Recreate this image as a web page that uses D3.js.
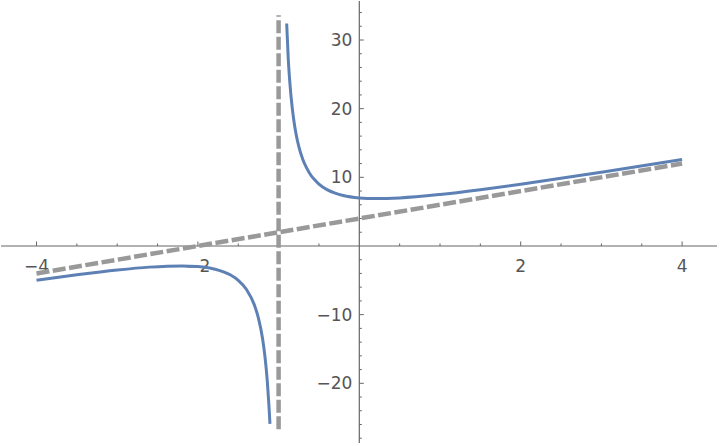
<!DOCTYPE html>
<html>
<head>
<meta charset="utf-8">
<script src="https://cdn.jsdelivr.net/npm/d3@7"></script>
<style>
  body { margin: 0; background: #fff; }
  svg text { font-family: "DejaVu Sans", sans-serif; font-size: 17px; fill: #555; }
</style>
</head>
<body>
<svg id="chart" width="720" height="446"></svg>
<script>
// curve, left branch (x < -1) and right branch (x > -1)
const leftX = [-4, -3.5, -3, -2.6, -2.2, -2.0, -1.8, -1.6, -1.5, -1.4, -1.3, -1.25, -1.2, -1.17, -1.14, -1.12, -1.107];
const leftY = [-5.0, -4.2, -3.5, -3.08, -2.9, -3.0, -3.35, -4.2, -5.0, -6.3, -8.6, -10.5, -13.4, -16.0, -19.7, -23.2, -25.9];
const rightX = [-0.9, -0.88, -0.86, -0.83, -0.8, -0.78, -0.75, -0.7, -0.65, -0.6, -0.55, -0.5, -0.4, -0.3, -0.2, 0, 0.2, 0.5, 1, 1.5, 2, 3, 4];
const rightY = [32.4, 27.2, 23.7, 20.0, 17.4, 16.1, 14.5, 12.6, 11.3, 10.3, 9.6, 9.0, 8.2, 7.7, 7.35, 7.0, 6.9, 7.0, 7.5, 8.2, 9.0, 10.75, 12.6];

// asymptotes (dashed)
const obliqueX = [-4, 4];
const obliqueY = [-4, 12];
const verticalX = [-1, -1];
const verticalY = [-26.7, 33.6];

// ticks
const xMajor = [-4, -2, 2, 4];
const yMajor = [-20, -10, 10, 20, 30];
const xMinor = d3.range(-4, 4.01, 0.5).filter(v => v != 0 && !xMajor.includes(v));
const yMinor = d3.range(-28, 35, 2).filter(v => v != 0 && !yMajor.includes(v));

const svg = d3.select("#chart");

const x = d3.scaleLinear().domain([-4, 4]).range([36.5, 682.1]);
const y = d3.scaleLinear().domain([-20, 30]).range([383.3, 40]);

const axisColor = "#666";

// x axis line
svg.append("line")
  .attr("x1", 1).attr("x2", 717)
  .attr("y1", y(0)).attr("y2", y(0))
  .attr("stroke", axisColor).attr("stroke-width", 1.2);

// y axis line
svg.append("line")
  .attr("x1", x(0)).attr("x2", x(0))
  .attr("y1", 1).attr("y2", 443)
  .attr("stroke", axisColor).attr("stroke-width", 1.2);

// x ticks point up
svg.selectAll(".xmaj").data(xMajor).enter().append("line")
  .attr("x1", d => x(d)).attr("x2", d => x(d))
  .attr("y1", y(0)).attr("y2", y(0) - 4.5)
  .attr("stroke", axisColor).attr("stroke-width", 1);
svg.selectAll(".xmin").data(xMinor).enter().append("line")
  .attr("x1", d => x(d)).attr("x2", d => x(d))
  .attr("y1", y(0)).attr("y2", y(0) - 2.5)
  .attr("stroke", axisColor).attr("stroke-width", 1);

// y ticks point right
svg.selectAll(".ymaj").data(yMajor).enter().append("line")
  .attr("x1", x(0)).attr("x2", x(0) + 4.5)
  .attr("y1", d => y(d)).attr("y2", d => y(d))
  .attr("stroke", axisColor).attr("stroke-width", 1);
svg.selectAll(".ymin").data(yMinor).enter().append("line")
  .attr("x1", x(0)).attr("x2", x(0) + 2.5)
  .attr("y1", d => y(d)).attr("y2", d => y(d))
  .attr("stroke", axisColor).attr("stroke-width", 1);

const fmt = d => (d < 0 ? "\u2212" + Math.abs(d) : "" + d);

svg.selectAll(".xlab").data(xMajor).enter().append("text")
  .attr("x", d => x(d))
  .attr("y", y(0) + 20)
  .attr("text-anchor", "middle")
  .attr("dominant-baseline", "central")
  .text(fmt);

svg.selectAll(".ylab").data(yMajor).enter().append("text")
  .attr("x", x(0) - 7)
  .attr("y", d => y(d))
  .attr("text-anchor", "end")
  .attr("dominant-baseline", "central")
  .text(fmt);

// the function
const line = d3.line()
  .x(d => x(d[0]))
  .y(d => y(d[1]))
  .curve(d3.curveMonotoneX);

[[leftX, leftY], [rightX, rightY]].forEach(([xs, ys]) => {
  svg.append("path")
    .datum(d3.zip(xs, ys))
    .attr("fill", "none")
    .attr("stroke", "#5E81B5")
    .attr("stroke-width", 3)
    .attr("stroke-linejoin", "round")
    .attr("d", line);
});

// asymptotes
const straight = d3.line().x(d => x(d[0])).y(d => y(d[1]));
[[obliqueX, obliqueY], [verticalX, verticalY]].forEach(([xs, ys]) => {
  svg.append("path")
    .datum(d3.zip(xs, ys))
    .attr("fill", "none")
    .attr("stroke", "#999")
    .attr("stroke-width", 4.5)
    .attr("stroke-dasharray", "13,3.5")
    .attr("d", straight);
});
</script>
</body>
</html>
